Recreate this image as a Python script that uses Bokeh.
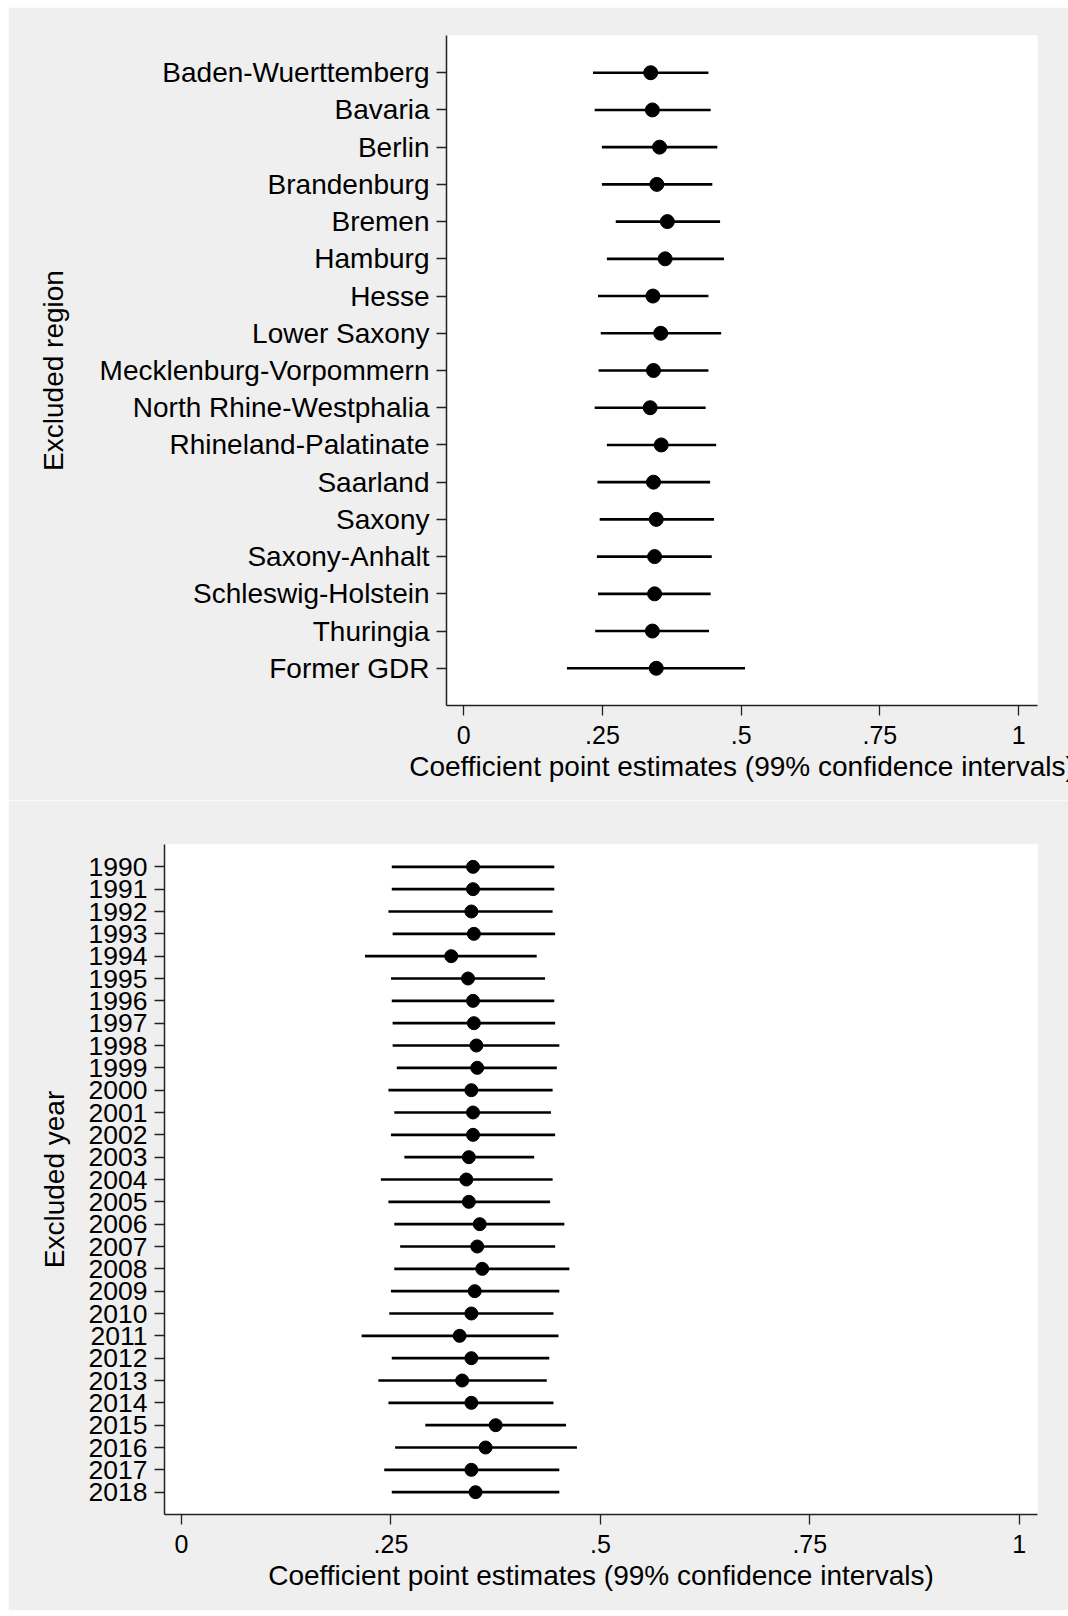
from bokeh.plotting import figure
from bokeh.models import Range1d, FixedTicker, ColumnDataSource
from bokeh.layouts import column
from bokeh.embed import file_html
from bokeh.resources import INLINE

# ---------------- data ----------------
regions = ["Baden-Wuerttemberg", "Bavaria", "Berlin", "Brandenburg", "Bremen",
           "Hamburg", "Hesse", "Lower Saxony", "Mecklenburg-Vorpommern",
           "North Rhine-Westphalia", "Rhineland-Palatinate", "Saarland", "Saxony",
           "Saxony-Anhalt", "Schleswig-Holstein", "Thuringia", "Former GDR"]
region_est = [0.337, 0.340, 0.353, 0.348, 0.367, 0.363, 0.341, 0.355, 0.342,
              0.336, 0.356, 0.342, 0.347, 0.344, 0.344, 0.340, 0.347]
region_lo = [0.233, 0.236, 0.249, 0.249, 0.274, 0.258, 0.242, 0.247, 0.243,
             0.236, 0.258, 0.241, 0.245, 0.240, 0.242, 0.237, 0.186]
region_hi = [0.441, 0.445, 0.457, 0.448, 0.462, 0.469, 0.441, 0.464, 0.441,
             0.436, 0.455, 0.444, 0.451, 0.447, 0.445, 0.442, 0.507]

years = [str(y) for y in range(1990, 2019)]
year_est = [0.348, 0.348, 0.346, 0.349, 0.322, 0.342, 0.348, 0.349, 0.352, 0.353,
            0.346, 0.348, 0.348, 0.343, 0.340, 0.343, 0.356, 0.353, 0.359, 0.350,
            0.346, 0.332, 0.346, 0.335, 0.346, 0.375, 0.363, 0.346, 0.351]
year_lo = [0.251, 0.251, 0.247, 0.252, 0.219, 0.250, 0.251, 0.252, 0.252, 0.257,
           0.247, 0.254, 0.250, 0.266, 0.238, 0.247, 0.254, 0.261, 0.254, 0.250,
           0.248, 0.215, 0.251, 0.235, 0.247, 0.291, 0.255, 0.242, 0.251]
year_hi = [0.445, 0.445, 0.443, 0.446, 0.424, 0.434, 0.445, 0.446, 0.451, 0.448,
           0.443, 0.441, 0.446, 0.421, 0.443, 0.440, 0.457, 0.446, 0.463, 0.451,
           0.444, 0.450, 0.439, 0.436, 0.444, 0.459, 0.472, 0.451, 0.451]

x_ticks = [0, 0.25, 0.5, 0.75, 1]
x_tick_labels = ["0", ".25", ".5", ".75", "1"]

x_title = "Coefficient point estimates (99% confidence intervals)"

FONT = "Liberation Sans"
GRAY = "#efefef"


def make_panel(labels, est, lo, hi, ylabel, width, height, borders, xr,
               lab_size, marker_size, ylab_standoff):
    n = len(labels)
    pos = list(range(1, n + 1))
    src = ColumnDataSource(dict(y=pos, est=est, lo=lo, hi=hi))
    p = figure(width=width, height=height, output_backend="svg",
               toolbar_location=None,
               x_range=Range1d(*xr), y_range=Range1d(n + 1, 0),
               min_border_left=borders[0], min_border_right=borders[1],
               min_border_top=borders[2], min_border_bottom=borders[3])
    if "frame_align" in p.properties():
        p.frame_align = False
    p.background_fill_color = "white"
    p.border_fill_color = GRAY
    p.outline_line_color = None
    p.xgrid.visible = False
    p.ygrid.visible = False

    p.segment(x0="lo", y0="y", x1="hi", y1="y", source=src,
              line_width=2.6, line_color="black")
    p.scatter(x="est", y="y", source=src, size=marker_size, marker="circle",
              fill_color="black", line_color="black")

    # x axis
    xa = p.xaxis[0]
    xa.ticker = FixedTicker(ticks=x_ticks)
    xa.major_label_overrides = {t: l for t, l in zip(x_ticks, x_tick_labels)}
    xa.minor_tick_line_color = None
    xa.major_tick_in = 0
    xa.major_tick_out = 10
    xa.major_tick_line_width = 1.3
    xa.axis_line_width = 1.5
    xa.axis_line_color = "#222222"
    xa.major_tick_line_color = "#222222"
    xa.major_label_text_font = FONT
    xa.major_label_text_font_size = "25px"
    xa.major_label_text_color = "black"
    xa.major_label_standoff = 10
    xa.axis_label = x_title
    xa.axis_label_text_font = FONT
    xa.axis_label_text_font_size = "28px"
    xa.axis_label_text_font_style = "normal"
    xa.axis_label_text_color = "black"
    xa.axis_label_standoff = 4

    # y axis
    ya = p.yaxis[0]
    ya.ticker = FixedTicker(ticks=pos)
    ya.major_label_overrides = {k: l for k, l in zip(pos, labels)}
    ya.minor_tick_line_color = None
    ya.major_tick_in = 0
    ya.major_tick_out = 10
    ya.major_tick_line_width = 1.3
    ya.axis_line_width = 1.5
    ya.axis_line_color = "#222222"
    ya.major_tick_line_color = "#222222"
    ya.major_label_text_font = FONT
    ya.major_label_text_font_size = lab_size
    ya.major_label_text_color = "black"
    ya.major_label_standoff = 7
    ya.axis_label = ylabel
    ya.axis_label_text_font = FONT
    ya.axis_label_text_font_size = "28px"
    ya.axis_label_text_font_style = "normal"
    ya.axis_label_text_color = "black"
    ya.axis_label_standoff = ylab_standoff
    return p


p1 = make_panel(regions, region_est, region_lo, region_hi, "Excluded region",
                1060, 793, (438, 31, 28, 95), (-0.031, 1.034), "28px", 14, 28)
p2 = make_panel(years, year_est, year_lo, year_hi, "Excluded year",
                1060, 810, (156, 31, 44, 96), (-0.0203, 1.0218), "26.5px", 13, 16)

layout = column(column(p1), column(p2), spacing=0, margin=(7, 0, 0, 8))

open("out.html", "w").write(file_html(layout, INLINE))
